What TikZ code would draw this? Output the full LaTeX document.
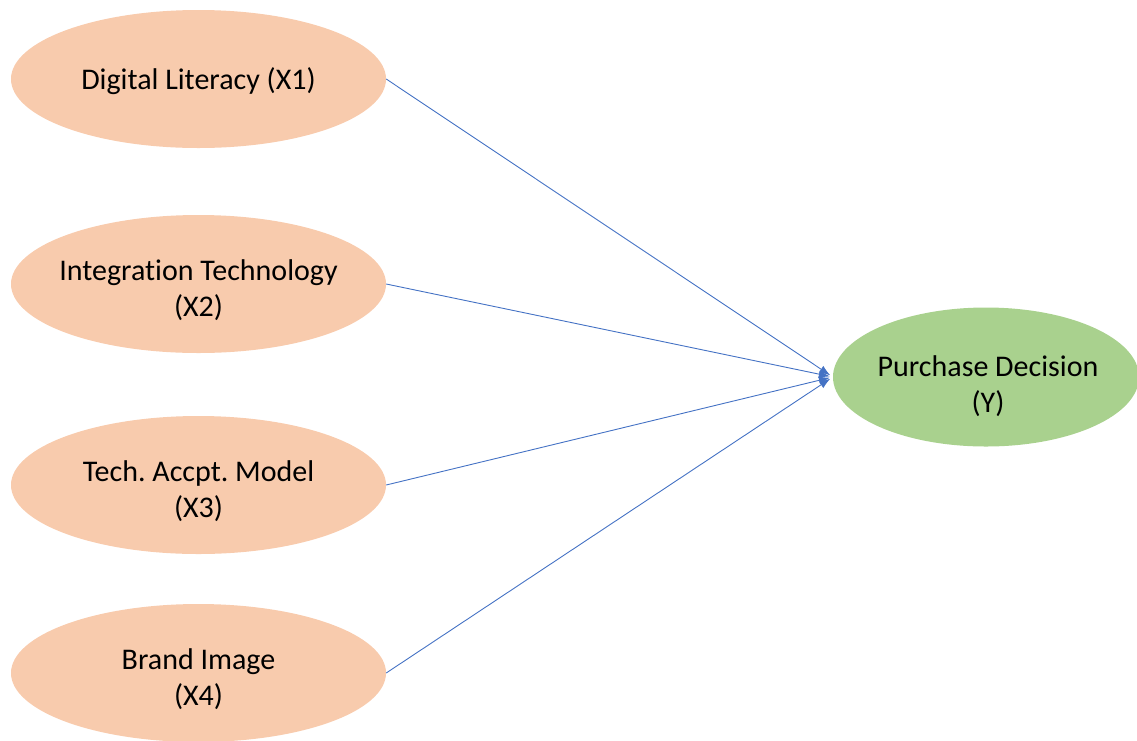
\documentclass[tikz,border=0pt]{standalone}
\usepackage{fontspec}
\setmainfont[Ligatures=CommonOff]{Carlito}
\usetikzlibrary{shapes.geometric,arrows.meta}
\definecolor{peach}{HTML}{F8CBAD}
\definecolor{leaf}{HTML}{A9D18E}
\definecolor{linkblue}{HTML}{4472C4}
\tikzset{
  xnode/.style={ellipse, fill=peach, draw=none, minimum width=375pt, minimum height=138pt, inner sep=0pt},
  ynode/.style={ellipse, fill=leaf, draw=none, minimum width=306pt, minimum height=139pt, inner sep=0pt},
  caption/.style={align=center, inner sep=0pt, font=\fontsize{30}{35.5}\selectfont},
  link/.style={draw=linkblue, line width=0.9pt, -{Latex[length=11pt,width=8pt]}, shorten >=3pt}
}
\begin{document}
\frenchspacing
\begin{tikzpicture}[x=1pt,y=-1pt]
\useasboundingbox (0,0) rectangle (1137,740);
\node[xnode] (x1) at (198.5,79) {};
\node[xnode] (x2) at (198.5,284) {};
\node[xnode] (x3) at (198.5,485) {};
\node[xnode] (x4) at (198.5,673) {};
\node[ynode] (y) at (986,377) {};
\node[caption, yshift=-2pt] (t1) at (x1.center) {Digital Literacy (X1)};
\node[caption, yshift=-6pt] (t2) at (x2.center) {Integration Technology\\(X2)};
\node[caption, yshift=-6pt] (t3) at (x3.center) {Tech. Accpt. Model\\(X3)};
\node[caption, yshift=-6pt] (t4) at (x4.center) {Brand Image\\(X4)};
\node[caption, yshift=-9pt, xshift=2pt] (ty) at (y.center) {Purchase Decision\\(Y)};
\draw[link] (x1.east) -- (y.west);
\draw[link] (x2.east) -- (y.west);
\draw[link] (x3.east) -- (y.west);
\draw[link] (x4.east) -- (y.west);
\end{tikzpicture}
\end{document}
